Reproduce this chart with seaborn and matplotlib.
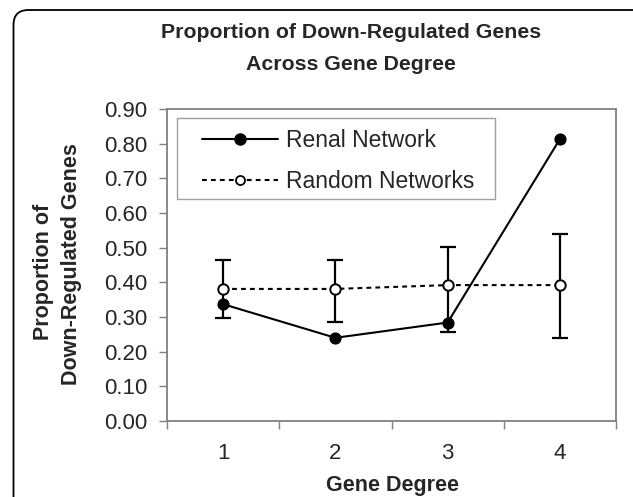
import numpy as np
import pandas as pd
import matplotlib
matplotlib.use('Agg')
import matplotlib.pyplot as plt
from matplotlib.patches import FancyBboxPatch, Rectangle
from matplotlib.lines import Line2D
import seaborn as sns

# data
degrees = [1, 2, 3, 4]
renal = [0.337, 0.240, 0.284, 0.813]
random_mean = [0.381, 0.381, 0.392, 0.392]
random_low = [0.298, 0.286, 0.256, 0.239]
random_high = [0.464, 0.464, 0.503, 0.539]
y_ticks = [0.0, 0.1, 0.2, 0.3, 0.4, 0.5, 0.6, 0.7, 0.8, 0.9]

df = pd.DataFrame({'degree': degrees, 'renal': renal, 'random': random_mean})

sns.set_style('white')
plt.rcParams['font.family'] = ['Liberation Sans', 'DejaVu Sans']

fig = plt.figure(figsize=(6.33, 4.97), dpi=100)
ax = fig.add_axes([167 / 633, 1 - 421 / 497, 449 / 633, 312 / 497])

dash = (0, (2.3, 2.0))

# error bars of the random networks
yerr = np.array([np.array(random_mean) - np.array(random_low),
                 np.array(random_high) - np.array(random_mean)])
ax.errorbar(degrees, random_mean, yerr=yerr, fmt='none', ecolor='black',
            elinewidth=1.6, capsize=5.5, capthick=1.6, zorder=2)

sns.lineplot(data=df, x='degree', y='random', ax=ax, color='black', lw=1.5,
             linestyle=dash, marker='o', markersize=7.5,
             markerfacecolor='white', markeredgecolor='black',
             markeredgewidth=1.4, zorder=3)
sns.lineplot(data=df, x='degree', y='renal', ax=ax, color='black', lw=1.5,
             marker='o', markersize=8, markerfacecolor='black',
             markeredgecolor='black', zorder=4)

ax.set_xlim(0.5, 4.5)
ax.set_ylim(0, 0.9)
ax.set_yticks(y_ticks)
ax.set_yticklabels([f'{v:.2f}' for v in y_ticks], fontsize=16)
ax.set_xticks([0.5, 1.5, 2.5, 3.5, 4.5])
ax.set_xticklabels([])
ax.set_xticks(degrees, minor=True)
ax.set_xticklabels([str(d) for d in degrees], minor=True, fontsize=16)
ax.tick_params(axis='x', which='minor', length=0, pad=16)
ax.tick_params(axis='both', which='major', length=6, width=1, color='#808080',
               direction='out', left=True, bottom=True)
ax.tick_params(axis='y', pad=8)
ax.set_xlabel('')
ax.set_ylabel('')
for s in ax.spines.values():
    s.set_color('#808080')
    s.set_linewidth(1.3)

# legend: entries without frame, box drawn separately (wider side padding)
handles = [
    Line2D([], [], color='black', lw=1.5, marker='o', markersize=8,
           markerfacecolor='black'),
    Line2D([], [], color='black', lw=1.5, linestyle=dash,
           marker='o', markersize=6.5, markerfacecolor='white',
           markeredgewidth=1.3),
]
leg = ax.legend(handles, ['Renal Network', 'Random Networks'], loc='upper left',
                bbox_to_anchor=(0.056, 0.97), fontsize=16.5, frameon=False,
                handlelength=3.3, borderpad=0.45, labelspacing=0.8,
                handletextpad=0.35, borderaxespad=0)
ax.add_patch(Rectangle((0.0223, 0.7115), 0.7082, 0.2595, transform=ax.transAxes,
                       fill=True, facecolor='white', edgecolor='#a0a0a0',
                       linewidth=1.0, zorder=4.5))
leg.set_zorder(5)

fig.text(351 / 633, 1 - 33 / 497, 'Proportion of Down-Regulated Genes',
         ha='center', va='center', fontsize=15.3, fontweight='bold')
fig.text(351 / 633, 1 - 64 / 497, 'Across Gene Degree',
         ha='center', va='center', fontsize=15.3, fontweight='bold')
fig.text(392 / 633, 1 - 485 / 497, 'Gene Degree', ha='center', va='center',
         fontsize=15.5, fontweight='bold')
fig.text(44 / 633, 1 - 272 / 497, 'Proportion of', rotation=90,
         ha='center', va='center', fontsize=15.5, fontweight='bold')
fig.text(72 / 633, 1 - 264 / 497, 'Down-Regulated Genes', rotation=90,
         ha='center', va='center', fontsize=15.5, fontweight='bold')

# rounded outer frame, cut off on the right and bottom
frame = FancyBboxPatch((0.135, -0.5), 7.0, 4.87 + 0.5,
                       boxstyle='round,pad=0,rounding_size=0.15',
                       transform=fig.dpi_scale_trans, fill=False,
                       edgecolor='black', linewidth=1.3)
fig.patches.append(frame)

fig.savefig('out.png', dpi=100)
